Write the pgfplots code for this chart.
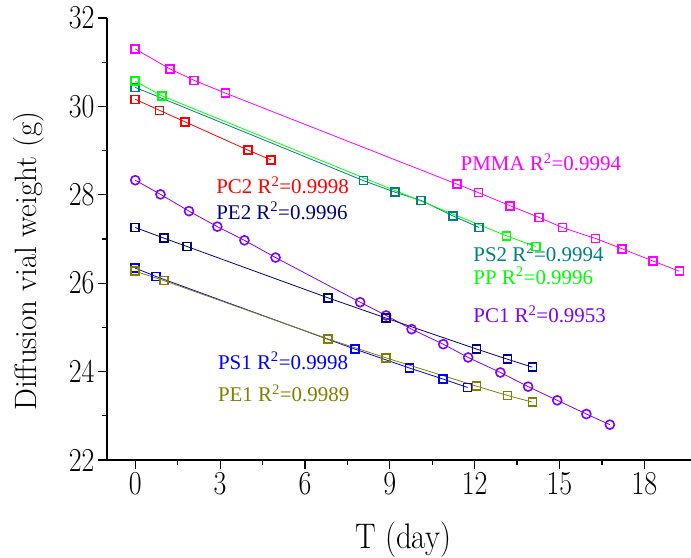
\documentclass[border=0pt]{standalone}
\usepackage{fontspec}
\usepackage{pgfplots}
\pgfplotsset{compat=1.18}
\newfontfamily\tnr{Liberation Serif}
\definecolor{cPMMA}{RGB}{255,0,255}
\definecolor{cPC2}{RGB}{255,0,0}
\definecolor{cPS2}{RGB}{0,128,128}
\definecolor{cPP}{RGB}{0,255,0}
\definecolor{cPC1}{RGB}{128,0,255}
\definecolor{cPE2}{RGB}{0,0,128}
\definecolor{cPS1}{RGB}{0,0,255}
\definecolor{cPE1}{RGB}{128,128,0}
\pgfplotsset{
  sq/.style={#1, line width=0.8pt, mark=square, mark size=4bp,
    mark options={solid, fill=white, line width=1.6pt, draw=#1}},
  ci/.style={#1, line width=0.8pt, mark=o, mark size=4.5bp,
    mark options={solid, fill=white, line width=1.6pt, draw=#1}},
}
\begin{document}
\begin{tikzpicture}
\begin{axis}[
  scale only axis, width=584bp, height=442bp,
  xmin=-1, xmax=19.65, ymin=22, ymax=32,
  axis x line=bottom, axis y line=left,
  axis line style={-, line width=1.2pt},
  xtick={0,3,...,18}, ytick={22,24,...,32},
  minor x tick num=1, minor y tick num=1,
  tick align=outside, major tick length=9bp, minor tick length=5bp,
  every tick/.style={line width=1.2pt, black},
  /pgf/number format/assume math mode=true,
  tick label style={font=\fontsize{28}{28}\selectfont},
  xticklabel={\scalebox{1}[1.2]{\pgfmathprintnumber{\tick}}},
  yticklabel={\scalebox{1}[1.2]{\pgfmathprintnumber{\tick}}},
  xlabel={\scalebox{1}[1.15]{T (day)}},
  ylabel={Diffusion vial weight (g)},
  label style={font=\fontsize{31}{31}\selectfont},
  xlabel style={at={(axis description cs:0.507,0)}, anchor=center, yshift=-80bp},
  ylabel style={at={(axis description cs:-0.134,0.45)}, anchor=center},
]
\addplot[sq=cPMMA] coordinates {
  (0,31.30) (1.22,30.85) (2.08,30.59) (3.19,30.30) (11.38,28.24) (12.13,28.05)
  (13.26,27.75) (14.27,27.49) (15.10,27.26) (16.28,27.01) (17.21,26.78)
  (18.31,26.50) (19.24,26.27)};
\addplot[sq=cPC2] coordinates {
  (0,30.16) (0.86,29.91) (1.76,29.65) (3.99,29.01) (4.80,28.79)};
\addplot[sq=cPS2] coordinates {
  (0,30.43) (8.07,28.32) (9.18,28.06) (10.11,27.87) (11.24,27.52) (12.16,27.26)};
\addplot[sq=cPP] coordinates {
  (0,30.57) (0.94,30.24) (13.13,27.07) (14.16,26.83)};
\addplot[ci=cPC1] coordinates {
  (0,28.33) (0.89,28.01) (1.90,27.63) (2.90,27.28) (3.86,26.97) (4.96,26.58)
  (7.95,25.57) (8.87,25.27) (9.77,24.96) (10.89,24.62) (11.77,24.32)
  (12.91,23.98) (13.89,23.66) (14.92,23.35) (15.95,23.04) (16.78,22.80)};
\addplot[sq=cPE2] coordinates {
  (0,27.26) (1.01,27.02) (1.83,26.83) (6.81,25.67) (8.87,25.21) (12.07,24.51)
  (13.16,24.28) (14.04,24.10)};
\addplot[sq=cPS1] coordinates {
  (0,26.34) (0.74,26.15) (7.76,24.51) (9.70,24.08) (10.89,23.83) (11.75,23.64)};
\addplot[sq=cPE1] coordinates {
  (0,26.27) (1.01,26.06) (6.81,24.74) (8.87,24.31) (12.07,23.67) (13.16,23.46)
  (14.04,23.31)};
\tikzset{lab/.style={anchor=base west, inner sep=0pt, font=\tnr\fontsize{21}{21}\selectfont}}
\node[lab, text=cPMMA] at (axis cs:11.50,28.545) {PMMA R\textsuperscript{2}=0.9994};
\node[lab, text=cPC2] at (axis cs:2.86,28.02) {PC2 R\textsuperscript{2}=0.9998};
\node[lab, text=cPE2] at (axis cs:2.86,27.45) {PE2 R\textsuperscript{2}=0.9996};
\node[lab, text=cPS2] at (axis cs:11.95,26.50) {PS2 R\textsuperscript{2}=0.9994};
\node[lab, text=cPP] at (axis cs:11.95,25.975) {PP R\textsuperscript{2}=0.9996};
\node[lab, text=cPC1] at (axis cs:11.95,25.11) {PC1 R\textsuperscript{2}=0.9953};
\node[lab, text=cPS1] at (axis cs:2.92,24.05) {PS1 R\textsuperscript{2}=0.9998};
\node[lab, text=cPE1] at (axis cs:2.92,23.32) {PE1 R\textsuperscript{2}=0.9989};
\end{axis}
\pgfresetboundingbox
\path (current axis.south west) ++(-107bp,-98bp);
\path (current axis.north east) ++(0bp,18bp);
\end{tikzpicture}
\end{document}
